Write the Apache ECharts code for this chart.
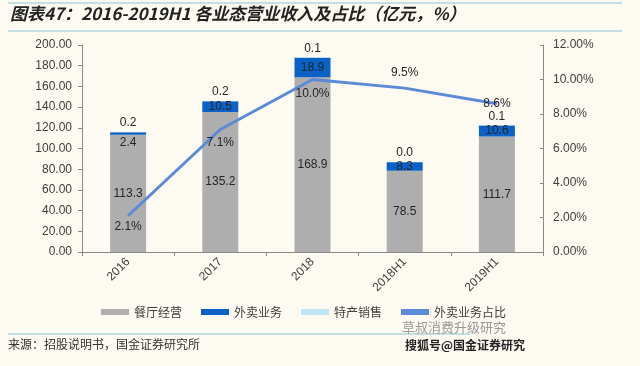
<!DOCTYPE html>
<html><head><meta charset="utf-8">
<script src="https://cdn.jsdelivr.net/npm/echarts@6/dist/echarts.min.js"></script>
<style>html,body{margin:0;padding:0;background:#FCFAF1;}#c{width:640px;height:366px;}</style>
</head><body><div id="c"></div>
<script>
const categories = ['2016','2017','2018','2018H1','2019H1'];
const restaurant = [113.3,135.2,168.9,78.5,111.7];
const delivery = [2.4,10.5,18.9,8.3,10.6];
const specialty = [0.2,0.2,0.1,0.0,0.1];
const deliveryShare = [2.1,7.1,10.0,9.5,8.6];
const leftTicks = {min:0,max:200,interval:20};
const rightTicks = {min:0,max:12,interval:2};

const chart = echarts.init(document.getElementById('c'));
const font = '"Liberation Sans", Arial, sans-serif';
const cjk = '"Noto Sans CJK SC", sans-serif';
const lineLabelPos = ['bottom','bottom','bottom','top','inside'];
const lineLabelDist = [4,7,8,9,0];
chart.setOption({
  backgroundColor:'#FCFAF1',
  animation:false,
  grid:{left:82,right:97,top:45,bottom:114},
  legend:{
    left:96, top:301, itemWidth:28, itemHeight:6, itemGap:19, icon:'rect',
    textStyle:{fontFamily:cjk,fontSize:12,color:'#404040'},
    data:['餐厅经营','外卖业务','特产销售','外卖业务占比']
  },
  xAxis:{
    type:'category', data:categories,
    axisLine:{lineStyle:{color:'#888',width:1}},
    axisTick:{show:true,lineStyle:{color:'#888'},length:4},
    axisLabel:{rotate:45,fontFamily:font,fontSize:12,color:'#404040',margin:8}
  },
  yAxis:[
    {type:'value',min:leftTicks.min,max:leftTicks.max,interval:leftTicks.interval,
     axisLine:{show:true,lineStyle:{color:'#888'}},
     axisTick:{show:true,length:4,lineStyle:{color:'#888'}},
     splitLine:{show:false},
     axisLabel:{formatter:v=>v.toFixed(2),fontFamily:font,fontSize:12,color:'#404040',margin:10}},
    {type:'value',min:rightTicks.min,max:rightTicks.max,interval:rightTicks.interval,
     axisLine:{show:true,lineStyle:{color:'#888'}},
     axisTick:{show:true,inside:true,length:3,lineStyle:{color:'#888'}},
     splitLine:{show:false},
     axisLabel:{formatter:v=>v.toFixed(2)+'%',fontFamily:font,fontSize:12,color:'#404040',margin:10}}
  ],
  series:[
    {name:'餐厅经营',type:'bar',stack:'s',barWidth:36,data:restaurant,
     itemStyle:{color:'#AEAEAE'},
     label:{show:true,position:'inside',fontFamily:font,fontSize:12,color:'#262626',formatter:p=>p.value.toFixed(1)}},
    {name:'外卖业务',type:'bar',stack:'s',barWidth:36,
     data:delivery.map((v,i)=>i===0?{value:v,label:{offset:[0,9]}}:v),
     itemStyle:{color:'#0A62C6'},
     label:{show:true,position:'inside',fontFamily:font,fontSize:12,color:'#262626',formatter:p=>p.value.toFixed(1)}},
    {name:'特产销售',type:'bar',stack:'s',barWidth:36,data:specialty,
     itemStyle:{color:'#BFE4F4'},
     label:{show:true,position:'top',distance:3,fontFamily:font,fontSize:12,color:'#262626',formatter:p=>p.value.toFixed(1)}},
    {name:'外卖业务占比',type:'line',yAxisIndex:1,
     data:deliveryShare.map((v,i)=>({value:v,label:{show:true,position:lineLabelPos[i],distance:lineLabelDist[i]}})),
     symbol:'circle',symbolSize:1,showSymbol:true,
     lineStyle:{color:'#5B8AD6',width:3},itemStyle:{color:'#5B8AD6'},
     labelLayout:{hideOverlap:false},
     label:{show:true,fontFamily:font,fontSize:12,color:'#262626',formatter:p=>p.value.toFixed(1)+'%'}}
  ],
  graphic:[
    {type:'line',shape:{x1:8,y1:3,x2:622,y2:3},style:{stroke:'#8EC3D6',lineWidth:1}},
    {type:'text',left:10,top:5,style:{text:'图表47：2016-2019H1 各业态营业收入及占比（亿元，%）',font:'italic bold 17px "Noto Sans CJK SC", sans-serif',fill:'#222'}},
    {type:'line',shape:{x1:8,y1:31,x2:622,y2:31},style:{stroke:'#8EC3D6',lineWidth:1}},
    {type:'line',shape:{x1:8,y1:334,x2:470,y2:334},style:{stroke:'#8EC3D6',lineWidth:1}},
    {type:'text',left:8,top:338,style:{text:'来源：招股说明书，国金证券研究所',font:'12px "Noto Sans CJK SC", sans-serif',fill:'#333'}},
    {type:'text',left:402,top:321,style:{text:'草叔消费升级研究',font:'13px "Noto Sans CJK SC", sans-serif',fill:'#9a9a9a'}},
    {type:'text',left:405,top:339,style:{text:'搜狐号@国金证券研究',font:'bold 12px "Noto Sans CJK SC", sans-serif',fill:'#222'}}
  ]
});
</script></body></html>
